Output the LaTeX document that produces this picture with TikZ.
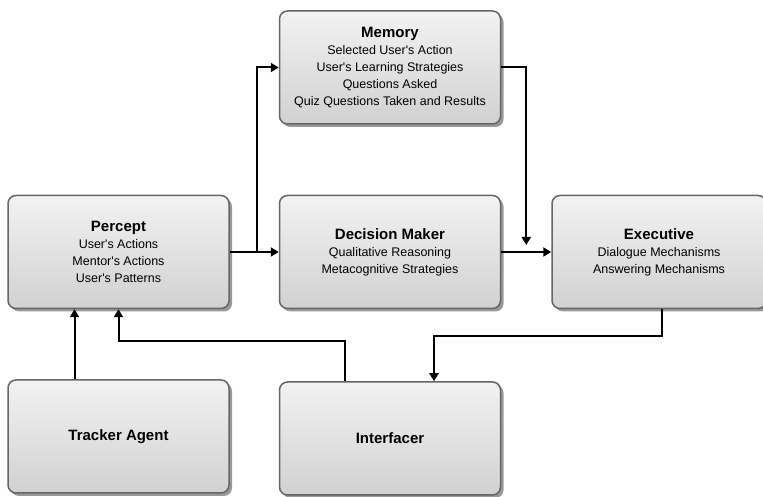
\documentclass[tikz,border=0pt]{standalone}
\usepackage{fontspec}
\setmainfont{Liberation Sans}
\usetikzlibrary{positioning, calc, shadows, arrows.meta}

\newcommand{\ttl}[1]{{\fontsize{15}{18}\selectfont\bfseries #1}}
\newcommand{\q}{\textquotesingle}

\begin{document}
\begin{tikzpicture}[x=1pt, y=1pt,
        unit/.style={rectangle, rounded corners=8pt, draw=black!60, line width=1.5pt,
            top color=black!5, bottom color=black!18, minimum width=221pt, minimum height=113pt,
            align=center, font=\fontsize{12.5}{17}\selectfont,
            drop shadow={shadow xshift=3pt, shadow yshift=-3pt, fill=black!40, opacity=1}},
        arr/.style={line width=2pt, -{Triangle[length=8pt, width=9pt]}}]
        \useasboundingbox (0,0) rectangle (763,497);

        \node (percept) [unit] at (118.5,245) {\ttl{Percept}\\ User\q s Actions\\ Mentor\q s Actions\\ User\q s Patterns};
        \node (decision) [unit, right=49pt of percept] {\ttl{Decision Maker}\\ Qualitative Reasoning\\ Metacognitive Strategies};
        \node (executive) [unit, minimum width=214pt, right=50pt of decision] {\ttl{Executive}\\ Dialogue Mechanisms\\ Answering Mechanisms};
        \node (memory) [unit, above=70pt of decision] {\ttl{Memory}\\ Selected User\q s Action\\ User\q s Learning Strategies\\ Questions Asked\\ Quiz Questions Taken and Results};
        \node (tracker) [unit, below=70pt of percept] {\ttl{Tracker Agent}};
        \node (interfacer) [unit, below=72pt of decision] {\ttl{Interfacer}};

        \coordinate (merge) at ([yshift=7pt]$(decision.east)!0.5!(executive.west)$);

        \draw[arr] (percept.east) -- (decision.west);
        \draw[arr] (percept.east) -- ++(27pt,0) |- (memory.west);
        \draw[arr] (memory.east) -| (merge);
        \draw[arr] (decision.east) -- (executive.west);
        \draw[arr] ([xshift=3pt]executive.south) -- ++(0,-27pt) -| ([xshift=44pt]interfacer.north);
        \draw[arr] ([xshift=-45pt]interfacer.north) -- ++(0,40pt) -| (percept.south);
        \draw[arr] ([xshift=-44pt]tracker.north) -- ([xshift=-44pt]percept.south);
    \end{tikzpicture}
\end{document}
